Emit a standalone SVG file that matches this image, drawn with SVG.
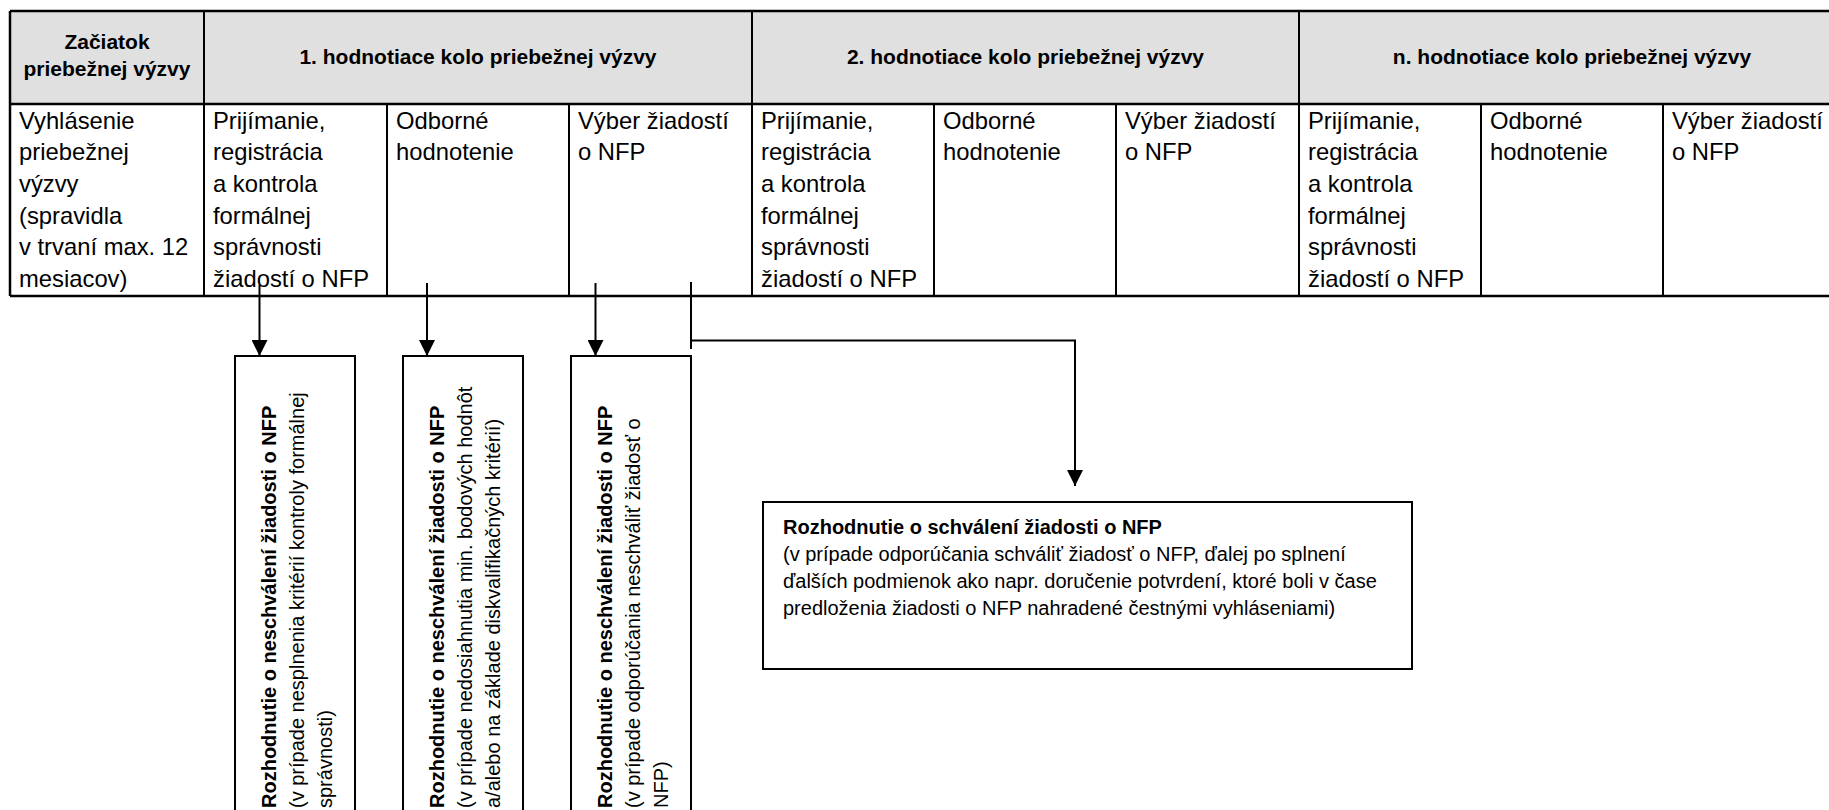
<svg xmlns="http://www.w3.org/2000/svg" width="1829" height="810" viewBox="0 0 1829 810">
<style>
text{font-family:"Liberation Sans",Arial,sans-serif;fill:#000}
.hd{font-size:21px;font-weight:bold;text-anchor:middle}
.bd{font-size:23.8px}
.bx{font-size:20px}
.b{font-weight:bold}
.ln{stroke:#000;stroke-width:2;fill:none}
.th{stroke:#000;stroke-width:2.5;fill:none}
.box{fill:#fff;stroke:#000;stroke-width:2}
</style>
<defs>
<marker id="ah" markerUnits="userSpaceOnUse" markerWidth="16" markerHeight="16" viewBox="0 0 16 16" refX="16" refY="8" orient="auto">
<path d="M0,0 L16,8 L0,16 Z" fill="#000"/>
</marker>
</defs>
<rect width="1829" height="810" fill="#fff"/>

<g id="table">
<rect x="10" y="11" width="1836" height="93" fill="#e0e0e0"/>
<path class="th" d="M10,11 H1846 M10,104 H1846 M10,296 H1846 M10,11 V296"/>
<path class="ln" d="M204,11 V296 M752,11 V296 M1299,11 V296 M387,104 V296 M569,104 V296 M934,104 V296 M1116,104 V296 M1481,104 V296 M1663,104 V296"/>
</g>

<g id="header-start"><text class="hd" x="107" y="49">Začiatok</text><text class="hd" x="107" y="76">priebežnej výzvy</text></g>
<g id="header-round1"><text class="hd" x="478" y="64">1. hodnotiace kolo priebežnej výzvy</text></g>
<g id="header-round2"><text class="hd" x="1025.5" y="64">2. hodnotiace kolo priebežnej výzvy</text></g>
<g id="header-roundn"><text class="hd" x="1572" y="64">n. hodnotiace kolo priebežnej výzvy</text></g>

<g id="cell-vyhlasenie"><text class="bd"><tspan x="19" y="128.5">Vyhlásenie</tspan><tspan x="19" y="160.2">priebežnej</tspan><tspan x="19" y="191.9">výzvy</tspan><tspan x="19" y="223.6">(spravidla</tspan><tspan x="19" y="255.3">v trvaní max. 12</tspan><tspan x="19" y="287">mesiacov)</tspan></text></g>

<g id="cell-r1-prijimanie"><text class="bd"><tspan x="213" y="128.5">Prijímanie,</tspan><tspan x="213" y="160.2">registrácia</tspan><tspan x="213" y="191.9">a kontrola</tspan><tspan x="213" y="223.6">formálnej</tspan><tspan x="213" y="255.3">správnosti</tspan><tspan x="213" y="287">žiadostí o NFP</tspan></text></g>
<g id="cell-r1-odborne"><text class="bd"><tspan x="396" y="128.5">Odborné</tspan><tspan x="396" y="160.2">hodnotenie</tspan></text></g>
<g id="cell-r1-vyber"><text class="bd"><tspan x="578" y="128.5">Výber žiadostí</tspan><tspan x="578" y="160.2">o NFP</tspan></text></g>

<g id="cell-r2-prijimanie"><text class="bd"><tspan x="761" y="128.5">Prijímanie,</tspan><tspan x="761" y="160.2">registrácia</tspan><tspan x="761" y="191.9">a kontrola</tspan><tspan x="761" y="223.6">formálnej</tspan><tspan x="761" y="255.3">správnosti</tspan><tspan x="761" y="287">žiadostí o NFP</tspan></text></g>
<g id="cell-r2-odborne"><text class="bd"><tspan x="943" y="128.5">Odborné</tspan><tspan x="943" y="160.2">hodnotenie</tspan></text></g>
<g id="cell-r2-vyber"><text class="bd"><tspan x="1125" y="128.5">Výber žiadostí</tspan><tspan x="1125" y="160.2">o NFP</tspan></text></g>

<g id="cell-rn-prijimanie"><text class="bd"><tspan x="1308" y="128.5">Prijímanie,</tspan><tspan x="1308" y="160.2">registrácia</tspan><tspan x="1308" y="191.9">a kontrola</tspan><tspan x="1308" y="223.6">formálnej</tspan><tspan x="1308" y="255.3">správnosti</tspan><tspan x="1308" y="287">žiadostí o NFP</tspan></text></g>
<g id="cell-rn-odborne"><text class="bd"><tspan x="1490" y="128.5">Odborné</tspan><tspan x="1490" y="160.2">hodnotenie</tspan></text></g>
<g id="cell-rn-vyber"><text class="bd"><tspan x="1672" y="128.5">Výber žiadostí</tspan><tspan x="1672" y="160.2">o NFP</tspan></text></g>

<g id="connectors">
<path class="ln" d="M259.5,285 V356" marker-end="url(#ah)"/>
<path class="ln" d="M427,283 V356" marker-end="url(#ah)"/>
<path class="ln" d="M595.5,283 V356" marker-end="url(#ah)"/>
<path class="ln" d="M691,282 V349"/>
<path class="ln" d="M691,340.5 H1075 V486" marker-end="url(#ah)"/>
</g>

<g id="reject-formal">
<rect class="box" x="235" y="356" width="120" height="470"/>
<text class="bx" transform="translate(276,808) rotate(-90)"><tspan class="b" x="0" y="0">Rozhodnutie o neschválení žiadosti o NFP</tspan><tspan x="0" dy="28">(v prípade nesplnenia kritérií kontroly formálnej</tspan><tspan x="0" dy="28">správnosti)</tspan></text>
</g>
<g id="reject-score">
<rect class="box" x="403" y="356" width="120" height="470"/>
<text class="bx" transform="translate(444,808) rotate(-90)"><tspan class="b" x="0" y="0">Rozhodnutie o neschválení žiadosti o NFP</tspan><tspan x="0" dy="28">(v prípade nedosiahnutia min. bodových hodnôt</tspan><tspan x="0" dy="28">a/alebo na základe diskvalifikačných kritérií)</tspan></text>
</g>
<g id="reject-selection">
<rect class="box" x="571" y="356" width="120" height="470"/>
<text class="bx" transform="translate(612,808) rotate(-90)"><tspan class="b" x="0" y="0">Rozhodnutie o neschválení žiadosti o NFP</tspan><tspan x="0" dy="28">(v prípade odporúčania neschváliť žiadosť o</tspan><tspan x="0" dy="28">NFP)</tspan></text>
</g>

<g id="approve">
<rect class="box" x="763" y="502" width="649" height="167"/>
<text class="bx"><tspan class="b" x="783" y="534">Rozhodnutie o schválení žiadosti o NFP</tspan><tspan x="783" y="561">(v prípade odporúčania schváliť žiadosť o NFP, ďalej po splnení</tspan><tspan x="783" y="588">ďalších podmienok ako napr. doručenie potvrdení, ktoré boli v čase</tspan><tspan x="783" y="615">predloženia žiadosti o NFP nahradené čestnými vyhláseniami)</tspan></text>
</g>
</svg>
